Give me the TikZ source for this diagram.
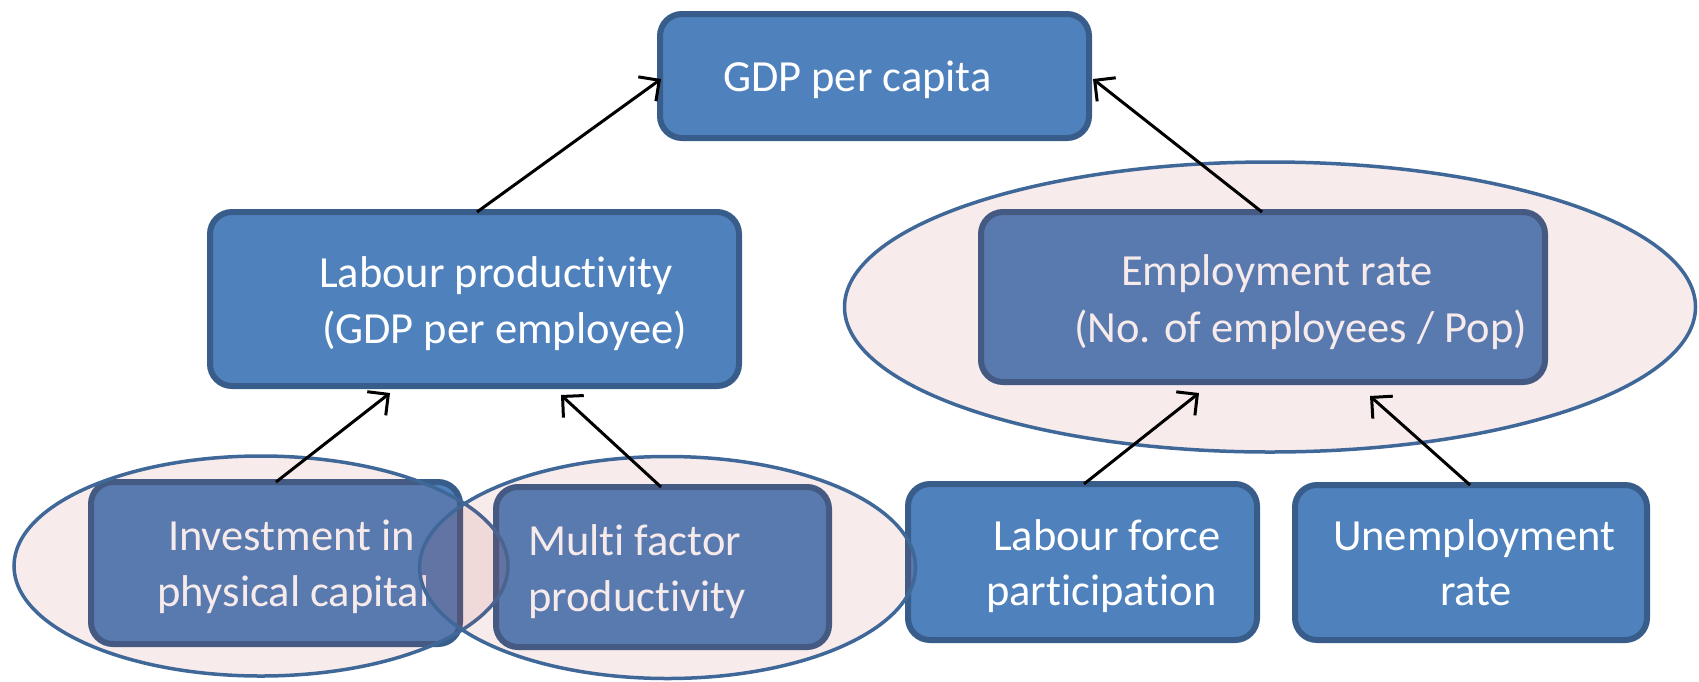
\documentclass[tikz,border=0pt]{standalone}
\usepackage{fontspec}
\setmainfont{Carlito}[Ligatures={NoCommon}]
\usetikzlibrary{arrows.meta,shapes.geometric}
\definecolor{boxfill}{HTML}{4F81BD}
\definecolor{boxline}{HTML}{385D8A}
\definecolor{ellline}{HTML}{3F6899}
\definecolor{tint}{RGB}{180,66,66}
\begin{document}
\begin{tikzpicture}[x=1pt,y=-1pt,
  box/.style={draw=boxline, fill=boxfill, line width=6pt, rounded corners=22pt, inner sep=0pt, outer sep=0pt},
  lbl/.style={anchor=base west, inner sep=0pt, outer sep=0pt, text=white, font=\fontsize{44.5}{54}\selectfont},
  grp/.style={ellipse, draw=ellline, line width=3.5pt, fill=tint, fill opacity=0.106, inner sep=0pt, outer sep=0pt},
  conn/.style={-{Straight Barb[length=15pt,width=30pt,line width=3pt]}, line width=3pt, black}
]
\useasboundingbox (0,0) rectangle (1699,681);

% boxes
\node[box, minimum width=429pt, minimum height=124pt] (gdp) at (874.5,76) {};
\node[box, minimum width=529pt, minimum height=174pt] (lp) at (474.5,299) {};
\node[box, minimum width=564pt, minimum height=170pt] (emp) at (1263,297) {};
\node[box, minimum width=369pt, minimum height=162pt] (inv) at (275.5,563) {};
\node[box, minimum width=333pt, minimum height=160pt] (mfp) at (662.5,567) {};
\node[box, minimum width=349pt, minimum height=156pt] (lf) at (1082.5,562) {};
\node[box, minimum width=352pt, minimum height=155pt] (ue) at (1471,562.5) {};

% labels
\node[lbl] (tgdp) at (723,91) {GDP per capita};
\node[lbl] (tlp1) at (319,287) {Labour productivity};
\node[lbl] (tlp2) at (322,343) {(GDP per employee)};
\node[lbl] (temp1) at (1121,285) {Employment rate};
\node[lbl] (temp2) at (1074,342) {(No. of employees / Pop)};
\node[lbl] (tinv1) at (168,550) {Investment in};
\node[lbl] (tinv2) at (157,606) {physical capital};
\node[lbl] (tmfp1) at (528,555) {Multi factor};
\node[lbl] (tmfp2) at (528,611) {productivity};
\node[lbl] (tlf1) at (993,550) {Labour force};
\node[lbl] (tlf2) at (986,605) {participation};
\node[lbl] (tue1) at (1333,550) {Unemployment};
\node[lbl] (tue2) at (1440,605) {rate};

% group ellipses
\node[grp, minimum width=851pt, minimum height=290pt] (gemp) at (1270,307) {};
\node[grp, minimum width=494pt, minimum height=220pt] (ginv) at (261,566) {};
\node[grp, minimum width=496pt, minimum height=222pt] (gmfp) at (667.5,567.5) {};

% arrow tips
\coordinate (t1) at (661,79);
\coordinate (t2) at (1093,79);
\coordinate (t3) at (390,393);
\coordinate (t4) at (561,395);
\coordinate (t5) at (1199,393);
\coordinate (t6) at (1370,396);

% connectors
\draw[conn] (477,0 |- lp.north) -- (t1);
\draw[conn] (1262,0 |- emp.north) -- (t2);
\draw[conn] (276,0 |- inv.north) -- (t3);
\draw[conn] (661,0 |- mfp.north) -- (t4);
\draw[conn] (1084,0 |- lf.north) -- (t5);
\draw[conn] (1470,0 |- ue.north) -- (t6);
\end{tikzpicture}
\end{document}
